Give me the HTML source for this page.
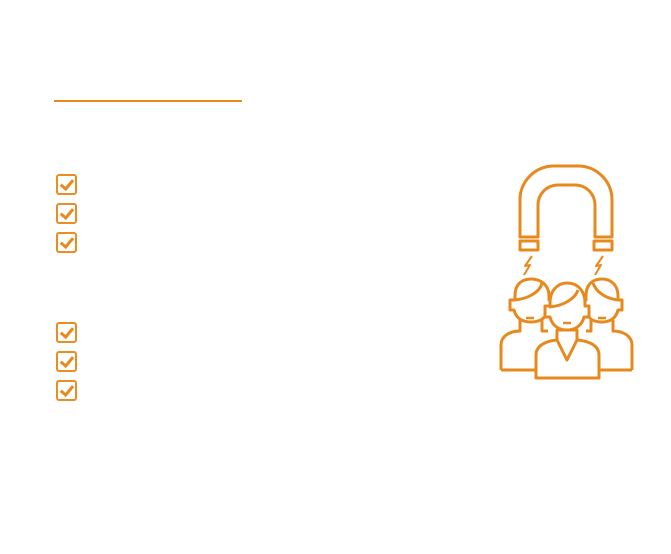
<!DOCTYPE html>
<html><head><style>
body{margin:0;width:671px;height:554px;background:#fff;position:relative;overflow:hidden}
.cb{position:absolute;left:56px;width:17px;height:17px;border:2px solid #EA8D25;border-radius:3px}
.cb::after{content:"";position:absolute;left:5px;top:1px;width:5px;height:10px;border:solid #E8891E;border-width:0 3px 3px 0;transform:rotate(40deg)}
</style></head><body>
<div style="position:absolute;left:54px;top:100px;width:188px;height:2px;background:#E8891E"></div>
<div class="cb" style="top:174px"></div>
<div class="cb" style="top:203px"></div>
<div class="cb" style="top:232px"></div>
<div class="cb" style="top:322px"></div>
<div class="cb" style="top:351px"></div>
<div class="cb" style="top:380px"></div>
<svg width="671" height="554" style="position:absolute;left:0;top:0" fill="none" stroke="#E8891E" stroke-width="3" stroke-linejoin="round">
<path d="M520 237 V200 A34 34 0 0 1 554 166 H578 A34 34 0 0 1 612 200 V237 H595 V205 A20 20 0 0 0 575 185 H557 A20 20 0 0 0 538 205 V237 Z"/>
<rect x="520" y="241" width="18" height="9"/>
<rect x="594" y="241" width="18" height="9"/>
<path d="M532 256 L525 266 L530 265 L524 275 M603 256 L596 266 L601 265 L595 275" stroke-width="2"/>
<!-- bodies (back) -->
<path d="M501 370 V345 C501 336 510 331 520 331 V320 M542 320 V331 H548"/>
<path d="M632 370 V345 C632 336 623 331 613 331 V320 M591 320 V331 H586"/>
<path d="M501 370 H536 M599 370 H632"/>
<!-- left head -->
<path d="M515 296 C515 283 523 279 531 279 C541 279 549 285 549 296 V300 H552 V310 H548 C546 318 540 322 531 322 C522 322 516 318 514 310 H510 V300 H515 Z" fill="#fff"/>
<path d="M514 300 C528 299 540 292 542 283"/>
<!-- right head -->
<path d="M586 296 C586 283 594 279 602 279 C611 279 618 285 618 296 V300 H622 V310 H618 C616 318 611 322 602 322 C593 322 587 318 586 310 H582 V300 H586 Z" fill="#fff"/>
<path d="M619 300 C606 299 596 292 593 283"/>
<!-- middle body -->
<path d="M536 378 V355 C536 346 545 341 557 340 V330 H577 V340 C590 341 599 346 599 355 V378 Z" fill="#fff"/>
<path d="M557 340 L567 360 L577 340"/>
<!-- middle head -->
<path d="M550 303 C550 290 558 283 567 283 C577 283 585 290 585 303 V306 H589 V317 H584 C582 325 576 330 567 330 C558 330 552 325 550 317 H545 V306 H550 Z" fill="#fff"/>
<path d="M549 307 C563 306 575 299 578 290"/>
<path d="M526 318 H534 M598 318 H606 M563 323 H571" stroke-width="2.5"/>
</svg>
</body></html>
